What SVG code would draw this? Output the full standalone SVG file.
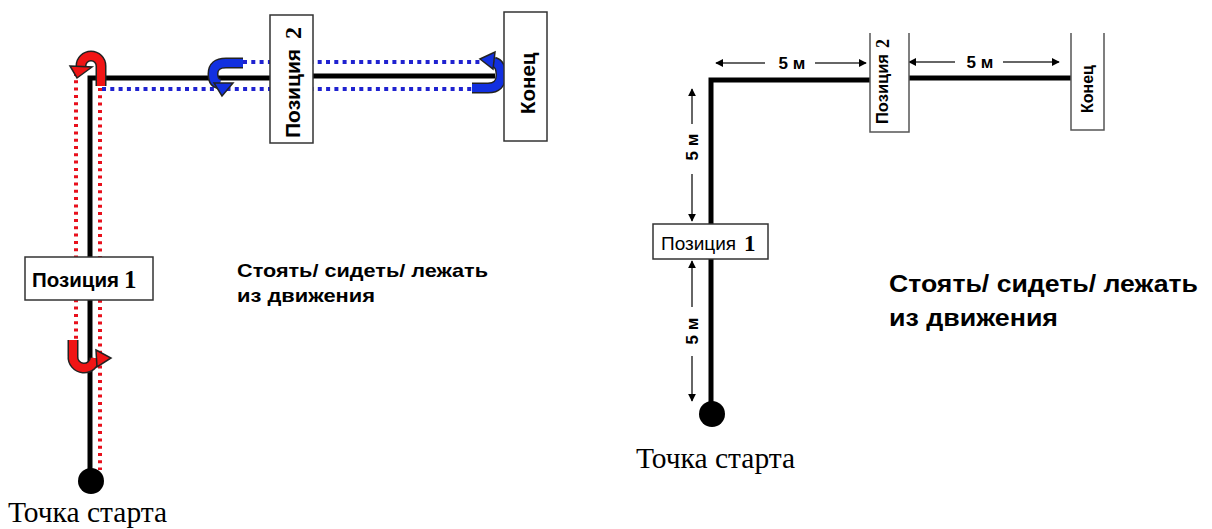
<svg xmlns="http://www.w3.org/2000/svg" width="1212" height="529" viewBox="0 0 1212 529">
<defs>
<style>
.line{stroke:#000;stroke-width:5;fill:none}
.box{fill:#fff;stroke:#333;stroke-width:1.5}
.lbl{font-family:"Liberation Sans",Arial,sans-serif;font-weight:bold;fill:#000}
.num{font-family:"Liberation Serif","Times New Roman",serif;font-weight:bold;fill:#000}
.ser{font-family:"Liberation Serif","Times New Roman",serif;fill:#000}
.red{stroke:#e8101c;stroke-width:4;stroke-dasharray:3 4.3;fill:none}
.blue{stroke:#1f22d0;stroke-width:4;stroke-dasharray:4 4.3;fill:none}
.uo{stroke:#222;stroke-width:11;fill:none}
.ur{stroke:#f01515;stroke-width:8;fill:none}
.ub{stroke:#1230e0;stroke-width:8;fill:none}
.dim{stroke:#666;stroke-width:2;fill:none;marker-end:url(#ah)}
</style>
<marker id="ah" viewBox="0 0 10 10" refX="9" refY="5" markerWidth="4" markerHeight="4" orient="auto" markerUnits="strokeWidth">
<path d="M0,0 L10,5 L0,10 z" fill="#000"/>
</marker>
</defs>
<rect width="1212" height="529" fill="#fff"/>

<g id="connectors">
<!-- left diagram -->
<path class="red" d="M76,73 V340"/>
<path class="red" d="M100,88 V470"/>
<path class="blue" d="M102,89 H472"/>
<path class="blue" d="M243,62 H483"/>
<path class="line" d="M90,481 V78 H272"/>
<path class="line" d="M313,76 H495"/>
<!-- red top U-turn -->
<path class="uo" d="M101,86 V66 A10,10 0 0 0 81,66 V68"/>
<path class="ur" d="M101,86 V66 A10,10 0 0 0 81,66 V68"/>
<polygon points="70,66 92,67 77,78" fill="#f01515" stroke="#222" stroke-width="1.5"/>
<!-- red bottom U-turn -->
<path class="uo" d="M73,340 V356 A11,11 0 0 0 95,358"/>
<path class="ur" d="M73,340 V356 A11,11 0 0 0 95,358"/>
<polygon points="96,350 111,358 97,367" fill="#f01515" stroke="#222" stroke-width="1.5"/>
<!-- blue left U-turn -->
<path class="uo" d="M243,63 H226 Q213,63 213,74 Q213,83 220,84"/>
<path class="ub" d="M243,63 H226 Q213,63 213,74 Q213,83 220,84"/>
<polygon points="214,83 233,83 222,96" fill="#1230e0" stroke="#222" stroke-width="1.5"/>
<!-- blue right U-turn -->
<path class="uo" d="M472,88 H488 Q501,88 501,75 Q501,64 494,62"/>
<path class="ub" d="M472,88 H488 Q501,88 501,75 Q501,64 494,62"/>
<polygon points="495,52 493,69 480,59" fill="#1230e0" stroke="#222" stroke-width="1.5"/>

<!-- right diagram -->
<path class="line" d="M711,414 V80 H871"/>
<path class="line" d="M909,78 H1071"/>
<path class="dim" d="M765,63 H716"/>
<path class="dim" d="M815,63 H866"/>
<path class="dim" d="M955,62 H909"/>
<path class="dim" d="M1003,62 H1059"/>
<path class="dim" d="M692,124 V89"/>
<path class="dim" d="M692,174 V221"/>
<path class="dim" d="M692,307 V261"/>
<path class="dim" d="M692,356 V401"/>
</g>

<g id="start-left">
<circle cx="91" cy="481" r="13" fill="#000"/>
<text class="ser" x="8" y="522" font-size="29.5">Точка старта</text>
</g>
<g id="pos1-left">
<rect class="box" x="25" y="257" width="128" height="43"/>
<text class="lbl" x="32" y="287" font-size="20.5">Позиция</text>
<text class="num" x="124" y="288" font-size="25">1</text>
</g>
<g id="pos2-left">
<rect class="box" x="270" y="15" width="43" height="128"/>
<text class="lbl" transform="translate(300,138) rotate(-90)" font-size="21">Позиция</text>
<text class="num" transform="translate(301,39) rotate(-90)" font-size="24">2</text>
</g>
<g id="end-left">
<rect class="box" x="504" y="12" width="43" height="129"/>
<text class="lbl" transform="translate(535,114) rotate(-90)" font-size="20.5">Конец</text>
</g>
<g id="note-left">
<text class="lbl" x="237" y="277" font-size="18.5" textLength="251" lengthAdjust="spacingAndGlyphs">Стоять/ сидеть/ лежать</text>
<text class="lbl" x="237" y="302" font-size="18.5" textLength="138" lengthAdjust="spacingAndGlyphs">из движения</text>
</g>

<g id="start-right">
<circle cx="712" cy="414" r="13" fill="#000"/>
<text class="ser" x="636" y="468" font-size="29.5">Точка старта</text>
</g>
<g id="pos1-right">
<rect class="box" x="653" y="224" width="115" height="35"/>
<text x="661" y="250" font-size="19" font-family="Liberation Sans, Arial, sans-serif">Позиция</text>
<text class="num" x="744" y="251" font-size="23">1</text>
</g>
<g id="pos2-right">
<path d="M870,33 V132 H909 V33" fill="#fff" stroke="#555" stroke-width="1.5"/>
<text class="lbl" transform="translate(888,124) rotate(-90)" font-size="16.5">Позиция</text>
<text class="num" transform="translate(889,48) rotate(-90)" font-size="18">2</text>
</g>
<g id="end-right">
<path d="M1071,33 V130 H1104 V33" fill="#fff" stroke="#555" stroke-width="1.5"/>
<text class="lbl" transform="translate(1093,113) rotate(-90)" font-size="16">Конец</text>
</g>
<g id="dims">
<text class="lbl" x="792" y="69" font-size="17" text-anchor="middle">5 м</text>
<text class="lbl" x="980" y="68" font-size="17" text-anchor="middle">5 м</text>
<text class="lbl" transform="translate(698,147) rotate(-90)" font-size="17" text-anchor="middle">5 м</text>
<text class="lbl" transform="translate(698,331) rotate(-90)" font-size="17" text-anchor="middle">5 м</text>
</g>
<g id="note-right">
<text class="lbl" x="889" y="292" font-size="23" textLength="309" lengthAdjust="spacingAndGlyphs">Стоять/ сидеть/ лежать</text>
<text class="lbl" x="889" y="326" font-size="23" textLength="169" lengthAdjust="spacingAndGlyphs">из движения</text>
</g>
</svg>
